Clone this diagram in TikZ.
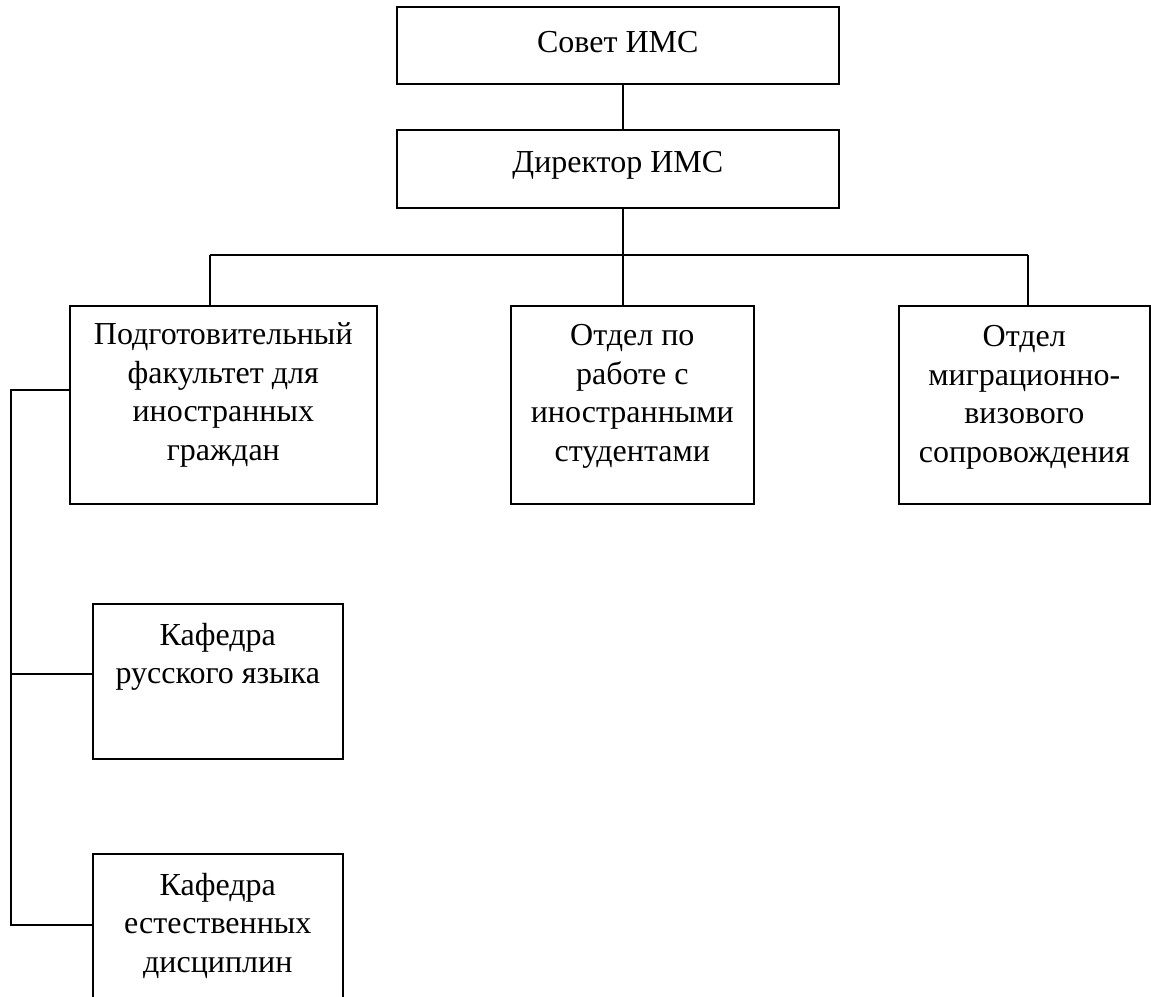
\documentclass[tikz,border=0pt]{standalone}
\usepackage{fontspec}
\setmainfont{Liberation Serif}
\newcommand{\bxt}[4]{\parbox[c][#2pt][t]{#1pt}{\centering\vspace*{#3pt}#4\par}}
\begin{document}
\begin{tikzpicture}[x=1pt,y=-1pt,
  orgbox/.style={draw, line width=1.6pt, inner sep=0pt, anchor=north west,
    font=\fontsize{32}{38.5}\selectfont},
  conn/.style={line width=1.4pt}]
\useasboundingbox (0,0) rectangle (1151,996);
\clip (0,0) rectangle (1151,996);
\node[orgbox] (sovet) at (396,6) {\bxt{442}{77}{25}{Совет ИМС}};
\node[orgbox] (dir) at (396,129) {\bxt{442}{78}{22}{Директор ИМС}};
\node[orgbox] (podg) at (69,305) {\bxt{307}{198}{17}{Подготовительный\\ факультет для\\ иностранных\\ граждан}};
\node[orgbox] (otd) at (510,305) {\bxt{243}{198}{19}{Отдел по\\ работе с\\ иностранными\\ студентами}};
\node[orgbox] (mig) at (898,305) {\bxt{251}{198}{20}{Отдел\\ миграционно-\\ визового\\ сопровождения}};
\node[orgbox] (krus) at (92,603) {\bxt{250}{155}{19}{Кафедра\\ русского языка}};
\node[orgbox] (kest) at (92,853) {\bxt{250}{155}{19}{Кафедра\\ естественных\\ дисциплин}};
\coordinate (bus) at (623,255);
\coordinate (busL) at (210,255);
\coordinate (busR) at (1028,255);
\coordinate (sT) at (11,390);
\coordinate (sM) at (11,674);
\coordinate (sB) at (11,925);
\draw[conn] (sovet.south -| bus) -- (dir.north -| bus);
\draw[conn] (dir.south -| bus) -- (bus);
\draw[conn] (busL) -- (busR);
\draw[conn] (busL) -- (busL |- podg.north);
\draw[conn] (bus) -- (bus |- otd.north);
\draw[conn] (busR) -- (busR |- mig.north);
\draw[conn] (podg.west |- sT) -- (sT) -- (sB) -- (kest.west |- sB);
\draw[conn] (sM) -- (krus.west |- sM);
\end{tikzpicture}
\end{document}
